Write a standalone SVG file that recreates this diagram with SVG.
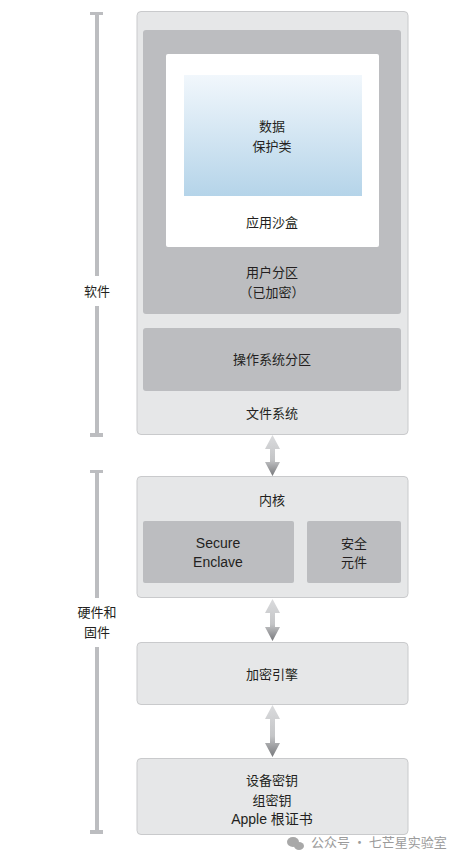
<svg xmlns="http://www.w3.org/2000/svg" width="467" height="863" viewBox="0 0 467 863">
<defs>
<linearGradient id="dp" x1="0" y1="0" x2="0" y2="1">
<stop offset="0" stop-color="#f1f7fc"/>
<stop offset="1" stop-color="#b5d4e9"/>
</linearGradient>
<linearGradient id="ag" x1="0" y1="0" x2="0" y2="1">
<stop offset="0" stop-color="#dadbdd"/>
<stop offset="0.6" stop-color="#c4c5c7"/>
<stop offset="1" stop-color="#77787b"/>
</linearGradient>
<style>
.outer{fill:#e6e7e8;stroke:#c9cacc;stroke-width:1}
.inner{fill:#bcbdc0}
.t{font-family:"Liberation Sans","Noto Sans CJK SC",sans-serif;font-size:13px;fill:#231f20;text-anchor:middle}
.l{font-family:"Liberation Sans","Noto Sans CJK SC",sans-serif;font-size:14px;fill:#231f20;text-anchor:middle}
.bar{fill:#bcbdc0}
.wm{font-family:"Noto Sans CJK SC",sans-serif;font-size:13px;fill:#9b9b9b}
</style>
</defs>

<g id="bracket-software">
<rect class="bar" x="90" y="12" width="13" height="3"/>
<rect class="bar" x="95" y="12" width="4" height="264"/>
<rect class="bar" x="95" y="306" width="4" height="130"/>
<rect class="bar" x="90" y="433" width="13" height="4"/>
<text class="t" x="97" y="296">软件</text>
</g>

<g id="bracket-hardware">
<rect class="bar" x="90" y="470" width="13" height="3"/>
<rect class="bar" x="95" y="470" width="4" height="128"/>
<rect class="bar" x="95" y="647" width="4" height="187"/>
<rect class="bar" x="90" y="830" width="13" height="4"/>
<text class="t" x="97" y="617">硬件和</text>
<text class="t" x="97" y="637">固件</text>
</g>

<g id="file-system">
<rect class="outer" x="137" y="11.5" width="271" height="423" rx="4"/>
<text class="t" x="272" y="418">文件系统</text>
</g>

<g id="user-partition">
<rect class="inner" x="143" y="30" width="258" height="284" rx="3"/>
<text class="t" x="272" y="277">用户分区</text>
<text class="t" x="272" y="297">（已加密）</text>
</g>

<g id="app-sandbox">
<rect x="166" y="54" width="213" height="193" rx="2" fill="#ffffff"/>
<text class="t" x="272" y="227">应用沙盒</text>
</g>

<g id="data-protection">
<rect x="184" y="75" width="178" height="121" fill="url(#dp)"/>
<text class="t" x="272" y="131">数据</text>
<text class="t" x="272" y="151">保护类</text>
</g>

<g id="os-partition">
<rect class="inner" x="143" y="328" width="258" height="63" rx="3"/>
<text class="t" x="272" y="364">操作系统分区</text>
</g>

<g id="kernel">
<rect class="outer" x="137" y="476.5" width="271" height="121" rx="4"/>
<text class="t" x="272" y="505">内核</text>
</g>

<g id="secure-enclave">
<rect class="inner" x="143" y="521" width="151" height="62" rx="2"/>
<text class="l" x="218" y="548">Secure</text>
<text class="l" x="218" y="567">Enclave</text>
</g>

<g id="secure-element">
<rect class="inner" x="307" y="521" width="94" height="62" rx="2"/>
<text class="t" x="354" y="548">安全</text>
<text class="t" x="354" y="567">元件</text>
</g>

<g id="crypto-engine">
<rect class="outer" x="137" y="642.5" width="271" height="62" rx="4"/>
<text class="t" x="272" y="679">加密引擎</text>
</g>

<g id="keys">
<rect class="outer" x="137" y="758.5" width="271" height="76" rx="4"/>
<text class="t" x="272" y="785">设备密钥</text>
<text class="t" x="272" y="805">组密钥</text>
<text class="l" x="272" y="824">Apple 根证书</text>
</g>

<g id="connectors">
<path d="M272.5 435 L280 449 L275 449 L275 462 L280 462 L272.5 476 L265 462 L270 462 L270 449 L265 449 Z" fill="url(#ag)"/>
<path d="M272.5 599 L280 613 L275 613 L275 627 L280 627 L272.5 641 L265 627 L270 627 L270 613 L265 613 Z" fill="url(#ag)"/>
<path d="M272.5 705 L280 719 L275 719 L275 743 L280 743 L272.5 757 L265 743 L270 743 L270 719 L265 719 Z" fill="url(#ag)"/>
</g>

<g id="watermark">
<ellipse cx="293" cy="842" rx="6" ry="5" fill="#a8a8a8"/>
<ellipse cx="299" cy="846" rx="5" ry="4" fill="#a8a8a8"/>
<text class="wm" x="311" y="847">公众号 · 七芒星实验室</text>
</g>
</svg>
